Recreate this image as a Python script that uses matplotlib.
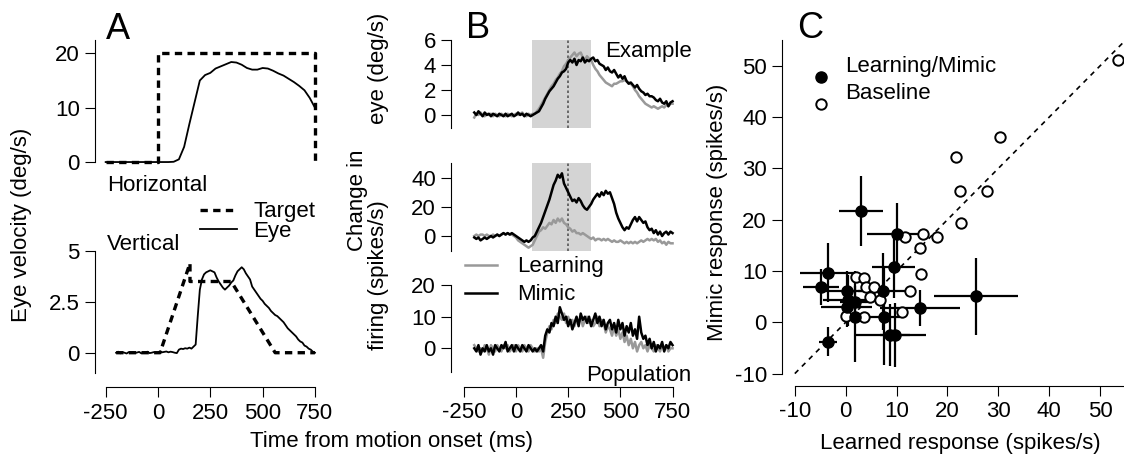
import numpy as np
import matplotlib
matplotlib.use("Agg")
import matplotlib.pyplot as plt

plt.rcParams['font.family'] = ['Liberation Sans', 'DejaVu Sans']
plt.rcParams['font.size'] = 16
plt.rcParams['axes.unicode_minus'] = False

# ---------------- data ----------------
# panel A, horizontal (25 ms bins, -250..750)
t_h = np.arange(-250, 751, 25)
eye_h = [0, 0, 0, 0, 0, 0, 0, 0, 0, 0,
         0, 0, 0, 0.05, 0.5, 2.8, 7.0, 11.0, 15.0, 16.0,
         16.4, 17.2, 17.6, 18.0, 18.4, 18.3, 17.9, 17.3, 17.0, 17.0,
         17.3, 17.2, 16.8, 16.3, 15.9, 15.3, 14.7, 14.0, 13.2, 11.8,
         10.0]
target_h_t = [-250, 0, 0, 750, 750]
target_h_v = [0, 0, 20, 20, 0]

# panel A, vertical (10 ms bins, -200..750)
t10 = np.arange(-200, 751, 10)
eye_v = [0.0, 0.05, -0.03, 0.02, 0.0, -0.04, 0.03, 0.0, 0.02, -0.02,
         0.01, 0.04, -0.03, 0.0, 0.02, 0.05, -0.02, 0.0, 0.03, -0.01,
         0.0, 0.08, 0.02, 0.04, 0.06, 0.02, 0.05, 0.03, 0.0, -0.02,
         0.15, 0.2, 0.18, 0.22, 0.2, 0.25, 0.2, 0.3, 0.4, 1.8,
         3.1, 3.6, 3.85, 3.95, 4.0, 4.05, 4.0, 3.95, 3.7, 3.5,
         3.35, 3.2, 3.1, 3.2, 3.3, 3.45, 3.55, 3.8, 4.0, 4.1,
         4.2, 4.1, 3.9, 3.75, 3.6, 3.25, 3.1, 2.95, 2.8, 2.65,
         2.55, 2.4, 2.3, 2.2, 2.05, 1.95, 1.85, 1.8, 1.7, 1.6,
         1.5, 1.35, 1.2, 1.1, 1.0, 0.9, 0.8, 0.65, 0.55, 0.5,
         0.35, 0.3, 0.2, 0.15, 0.05, 0.0]
target_v_t = [-200, 10, 153, 153, 350, 560, 750]
target_v_v = [0, 0, 4.4, 3.5, 3.5, 0, 0]

# panel B, example eye
eye_mimic = [0.2, 0.0, 0.3, 0.1, -0.1, 0.2, 0.0, 0.1, -0.1, 0.1,
             0.0, -0.1, 0.1, 0.0, -0.1, 0.1, -0.1, 0.0, 0.1, -0.1,
             0.0, 0.2, 0.0, 0.1, -0.1, 0.1, 0.0, -0.1, 0.0, 0.1,
             0.2, 0.3, 0.6, 0.9, 1.3, 1.6, 1.9, 2.1, 2.3, 2.6,
             2.9, 3.1, 3.4, 3.5, 3.7, 4.2, 4.4, 4.2, 4.5, 4.0,
             4.4, 4.3, 4.6, 4.2, 4.4, 4.3, 4.5, 4.6, 4.3, 4.4,
             4.1, 4.0, 3.9, 3.6, 3.8, 3.5, 3.4, 3.6, 3.3, 3.0,
             3.2, 2.9, 3.1, 2.7, 2.5, 2.6, 2.4, 2.2, 2.4, 2.1,
             1.9, 1.8, 1.6, 1.7, 1.5, 1.5, 1.4, 1.2, 1.1, 1.3,
             1.0, 0.9, 1.1, 0.7, 1.0, 1.1]
eye_learn = [-0.2, 0.1, 0.0, 0.2, 0.0, -0.1, 0.1, 0.0, 0.1, -0.1,
             0.1, 0.0, -0.1, 0.1, 0.0, -0.1, 0.1, 0.0, -0.1, 0.0,
             0.1, 0.0, 0.1, 0.2, 0.0, -0.1, 0.1, 0.0, 0.1, 0.1,
             0.3, 0.5, 0.8, 1.1, 1.4, 1.7, 2.0, 2.3, 2.5, 2.8,
             3.0, 3.3, 3.5, 3.9, 4.1, 4.4, 4.6, 4.8, 5.0, 4.7,
             4.9, 5.0, 4.6, 4.4, 4.7, 4.5, 4.4, 4.0, 3.7, 3.5,
             3.2, 3.0, 2.8, 2.6, 2.5, 2.4, 2.3, 2.5, 2.5, 2.6,
             2.7, 2.7, 2.8, 2.7, 2.6, 2.5, 2.3, 2.0, 1.8, 1.5,
             1.3, 1.1, 0.9, 0.8, 0.7, 0.6, 0.7, 0.6, 0.5, 0.6,
             0.7, 0.6, 0.8, 0.7, 0.9, 0.9]

# panel B, example firing
fr_mimic = [-1, -2, -1, -3, -2, -1, -2, -1, 0, -1,
            0, 1, 0, 1, 2, 1, 2, 1, 2, 1,
            0, -1, -2, -3, -4, -3, -4, -3, -1, 0,
            3, 6, 9, 13, 17, 21, 25, 30, 35, 38,
            42, 40, 43, 36, 33, 30, 27, 24, 25, 23,
            26, 24, 21, 19, 18, 20, 22, 25, 27, 29,
            27, 30, 28, 31, 29, 30, 26, 22, 16, 12,
            9, 6, 4, 6, 5, 8, 11, 13, 10, 13,
            11, 9, 10, 6, 4, 5, 2, 4, 1, 3,
            0, 2, 3, 1, 3, 2]
fr_learn = [0, 1, 0, 1, 1, 0, 1, 0, 0, 1,
            0, 1, 0, 1, 2, 1, 2, 1, 1, 0,
            -1, -3, -4, -5, -6, -7, -8, -7, -6, -3,
            0, 3, 4, 6, 5, 7, 9, 8, 11, 9,
            12, 10, 12, 9, 8, 6, 5, 3, 4, 2,
            2, 1, 2, 1, 0, -1, -2, -1, -3, -2,
            -2, -3, -2, -3, -2, -3, -4, -3, -4, -4,
            -3, -4, -5, -4, -5, -4, -5, -4, -5, -4,
            -3, -4, -3, -2, -3, -2, -3, -2, -4, -3,
            -5, -4, -6, -4, -5, -5]

# panel B, population firing
pop_mimic = [0, -1, 1, -2, 0, -1, 1, -1, 0, -2,
             1, 0, -1, 1, 0, 2, -1, 0, 1, -1,
             1, 0, -1, 1, 0, -1, 1, 0, -1, 0,
             -1, 0, 1, -1, 4, 6, 5, 8, 7, 10,
             8, 13, 11, 9, 10, 7, 9, 6, 8, 10,
             7, 11, 9, 10, 8, 10, 7, 9, 11, 8,
             10, 7, 9, 6, 8, 9, 6, 8, 5, 9,
             6, 8, 4, 7, 5, 8, 4, 6, 3, 10,
             5, 3, 4, 1, 3, 0, 2, -1, 1, 0,
             2, -1, 1, 0, 2, 1]
pop_learn = [1, 0, -1, 0, -1, 1, 0, -2, 1, 0,
             -1, 1, 0, -1, 1, 0, 1, -1, 0, 1,
             -1, 1, 0, -1, 1, 0, -1, 1, 0, -1,
             0, -1, 0, -3, 2, 5, 7, 6, 9, 8,
             11, 10, 9, 11, 8, 10, 8, 9, 7, 9,
             8, 10, 7, 9, 10, 8, 9, 7, 8, 10,
             7, 9, 8, 5, 7, 6, 4, 7, 4, 6,
             3, 5, 2, 4, 1, 3, 0, 2, -1, 1,
             2, 0, 1, -1, 1, 0, -1, 1, 0, -1,
             1, 0, 1, -1, 0, 0]
window = (75, 360)
peak_time = 250

# panel C
lm_x = [3.0, 10.0, -3.5, -4.9, 0.2, 0.5, 1.8, 0.2, 1.8, 7.4, 9.4, 14.6, 7.6, 8.7, 9.7, -3.5, 25.6]
lm_y = [21.7, 17.2, 9.7, 6.9, 6.0, 4.3, 4.0, 3.0, 1.1, 6.0, 10.7, 2.7, 1.1, -2.5, -2.5, -3.8, 5.1]
lm_xerr = [4.3, 5.8, 5.5, 3.5, 4.5, 5.0, 3.0, 5.0, 2.0, 5.0, 4.2, 7.8, 3.0, 7.0, 3.0, 1.8, 8.2]
lm_yerr = [6.8, 6.0, 5.8, 3.5, 4.0, 5.0, 3.0, 4.0, 8.8, 7.5, 6.0, 3.5, 9.5, 6.0, 6.3, 2.8, 7.5]
base_x = [53.5, 30.3, 21.6, 22.5, 27.8, 22.7, 11.6, 15.1, 18.0, 14.6, 14.7, 2.0, 3.6, 3.9,
          5.6, 4.8, 6.7, 12.6, 11.0, 0.0, 3.6]
base_y = [51.1, 36.2, 32.3, 25.5, 25.5, 19.4, 16.6, 17.3, 16.7, 14.4, 9.4, 8.9, 8.6, 6.9,
          6.9, 4.9, 4.3, 6.1, 2.1, 1.2, 1.0]

# ---------------- layout ----------------
W, H = 1124, 459
fig = plt.figure(figsize=(W / 100, H / 100), dpi=100)


def px_axes(x0, y0, x1, y1):
    return fig.add_axes([x0 / W, 1 - y1 / H, (x1 - x0) / W, (y1 - y0) / H])


def ftext(x, y, s, **kw):
    fig.text(x / W, 1 - y / H, s, **kw)


def fline(x0, x1, y, **kw):
    fig.add_artist(plt.Line2D([x0 / W, x1 / W], [1 - y / H, 1 - y / H], **kw))


def style(ax, ybounds, xbounds=None):
    for s in ['top', 'right']:
        ax.spines[s].set_visible(False)
    ax.spines['left'].set_bounds(*ybounds)
    ax.spines['left'].set_linewidth(0.8)
    if xbounds is None:
        ax.spines['bottom'].set_visible(False)
        ax.set_xticks([])
    else:
        ax.spines['bottom'].set_bounds(*xbounds)
        ax.spines['bottom'].set_linewidth(0.8)
    ax.tick_params(length=7, width=0.8, pad=4, labelsize=16)
    ax.patch.set_visible(False)


tdash = (0, (2.2, 1.6))
time_ticks = [-250, 0, 250, 500, 750]

# A top
ax = px_axes(95.2, 37.0, 325.4, 170.2)
ax.plot(target_h_t, target_h_v, color='k', lw=2.4, ls=tdash)
ax.plot(t_h, eye_h, color='k', lw=1.3)
ax.set_xlim(-300, 800)
ax.set_ylim(-1.5, 23)
ax.set_yticks([0, 10, 20])
style(ax, (0, 22.4))

# A bottom
ax = px_axes(95.2, 240.8, 325.4, 387.3)
ax.plot(target_v_t, target_v_v, color='k', lw=2.4, ls=tdash)
ax.plot(t10, eye_v, color='k', lw=1.3)
ax.set_xlim(-300, 800)
ax.set_ylim(-1.7, 5.5)
ax.set_yticks([0, 2.5, 5])
ax.set_yticklabels(['0', '2.5', '5'])
ax.set_xticks(time_ticks)
style(ax, (-1, 5), (-250, 750))

# B top
ax = px_axes(451.1, 40.0, 680.9, 127.5)
ax.axvspan(*window, color='#d4d4d4', lw=0)
ax.axvline(peak_time, color='#555555', lw=1.2, ls=(0, (1.5, 1.5)))
ax.plot(t10, eye_learn, color='#999999', lw=1.8)
ax.plot(t10, eye_mimic, color='k', lw=1.8)
ax.set_xlim(-311, 790)
ax.set_ylim(-1, 6)
ax.set_yticks([0, 2, 4, 6])
style(ax, (-1, 6))

# B middle
ax = px_axes(451.1, 163.1, 680.9, 250.6)
ax.axvspan(*window, color='#d4d4d4', lw=0)
ax.axvline(peak_time, color='#555555', lw=1.2, ls=(0, (1.5, 1.5)))
ax.plot(t10, fr_learn, color='#999999', lw=1.8)
ax.plot(t10, fr_mimic, color='k', lw=1.8)
ax.set_xlim(-311, 790)
ax.set_ylim(-10, 50)
ax.set_yticks([0, 20, 40])
style(ax, (-10, 50))

# B bottom
ax = px_axes(451.1, 285.1, 680.9, 386.7)
ax.plot(t10, pop_learn, color='#999999', lw=1.8)
ax.plot(t10, pop_mimic, color='k', lw=1.8)
ax.set_xlim(-311, 790)
ax.set_ylim(-12.15, 20)
ax.set_yticks([0, 10, 20])
ax.set_xticks(time_ticks)
style(ax, (-7.5, 20), (-250, 750))

# C
ax = px_axes(782.1, 40.1, 1125.6, 385.9)
ax.plot([-10, 55], [-10, 55], color='k', lw=1.2, ls=(0, (3, 3)))
ax.errorbar(lm_x, lm_y, xerr=lm_xerr, yerr=lm_yerr, fmt='none', ecolor='k',
            elinewidth=1.6, capsize=0)
ax.plot(base_x, base_y, 'o', mfc='white', mec='k', mew=1.4, ms=7.5, clip_on=False)
ax.plot(lm_x, lm_y, 'o', color='k', ms=8)
ax.set_xlim(-12.5, 55)
ax.set_ylim(-12.4, 55)
ax.set_xticks([-10, 0, 10, 20, 30, 40, 50])
ax.set_yticks([-10, 0, 10, 20, 30, 40, 50])
style(ax, (-10, 55), (-10, 55))
# legend markers
ax.plot([-4.8], [47.8], 'o', color='k', ms=8, clip_on=False)
ax.plot([-4.8], [42.5], 'o', mfc='white', mec='k', mew=1.4, ms=7.5, clip_on=False)

# ---------------- text ----------------
ftext(106, 39, 'A', fontsize=26, va='baseline')
ftext(466, 38, 'B', fontsize=26, va='baseline')
ftext(797, 38, 'C', fontsize=26, va='baseline')

ftext(107, 190.7, 'Horizontal', va='baseline')
ftext(107, 250, 'Vertical', va='baseline')
fline(200, 236.7, 210, color='k', lw=2.4, ls=tdash)
fline(200, 236.7, 229.3, color='k', lw=1.3)
ftext(253, 217, 'Target', va='baseline')
ftext(253, 236.7, 'Eye', va='baseline')

ftext(691.7, 56.7, 'Example', va='baseline', ha='right')
ftext(691.7, 380.7, 'Population', va='baseline', ha='right')
fline(465, 497, 265, color='#999999', lw=1.8)
fline(465, 497, 293, color='k', lw=1.8)
ftext(516.7, 271.7, 'Learning', va='baseline')
ftext(516.7, 300, 'Mimic', va='baseline')

ftext(845, 71.7, 'Learning/Mimic', va='baseline')
ftext(845, 99, 'Baseline', va='baseline')

ftext(22, 225, 'Eye velocity (deg/s)', rotation=90, ha='center', va='center')
ftext(378, 68, 'eye (deg/s)', rotation=90, ha='center', va='center')
ftext(357, 200, 'Change in', rotation=90, ha='center', va='center')
ftext(378, 275, 'firing (spikes/s)', rotation=90, ha='center', va='center')
ftext(717, 212, 'Mimic response (spikes/s)', rotation=90, ha='center', va='center')
ftext(392, 442, 'Time from motion onset (ms)', ha='center', va='center')
ftext(960, 443, 'Learned response (spikes/s)', ha='center', va='center')

fig.savefig('out.png', dpi=100)
